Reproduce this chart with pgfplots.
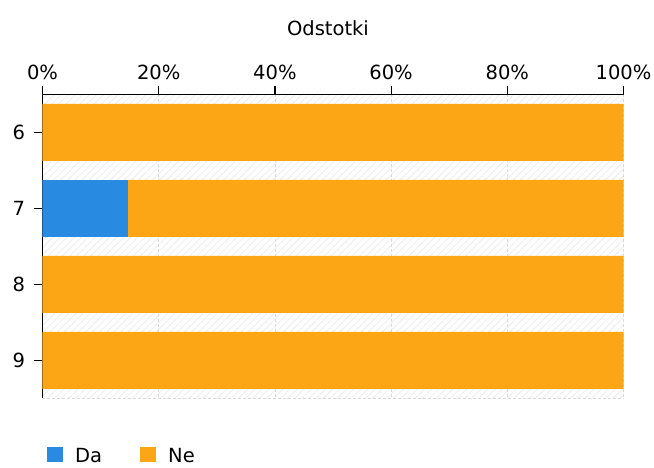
\documentclass[border=0pt]{standalone}
\usepackage{fontspec}
\setmainfont{DejaVu Sans}
\usepackage{pgfplots}
\pgfplotsset{compat=1.18}
\usetikzlibrary{patterns.meta}
\definecolor{cda}{HTML}{298AE2}
\definecolor{cne}{HTML}{FCA616}
\definecolor{hatch}{HTML}{ECECEC}
\definecolor{gridc}{HTML}{DADADA}
\newcommand\fs{\fontsize{19.5}{23}\selectfont}
\begin{document}
\begin{tikzpicture}
\useasboundingbox (-42.5pt,-68.7pt) rectangle (611.5pt,398.3pt);
\begin{axis}[
  at={(0,0)}, anchor=south west,
  scale only axis, width=581pt, height=304pt,
  xbar stacked, bar width=0.75,
  xmin=0, xmax=100, ymin=-0.5, ymax=3.5, y dir=reverse,
  axis x line*=top, axis y line*=left,
  axis line style={-, black, line width=1.5pt},
  axis background/.style={pattern={Lines[angle=45,distance=5pt,line width=0.8pt]}, pattern color=hatch},
  xtick={0,20,...,100},
  xticklabel={\pgfmathprintnumber{\tick}\%},
  ytick={0,1,2,3}, yticklabels={6,7,8,9},
  tick align=outside, major tick length=8pt,
  tick style={black, line width=1.2pt},
  /pgf/number format/assume math mode=true,
  ticklabel style={font=\fs},
  xticklabel style={yshift=3pt},
  yticklabel style={xshift=-6pt},
  xmajorgrids, major grid style={gridc, line width=0.8pt, dash pattern=on 3pt off 2pt},
  legend columns=2,
  legend style={at={(0,0)}, anchor=west, xshift=4.5pt, yshift=-56.2pt,
    draw=none, fill=none, inner sep=0pt, font=\fs,
    nodes={inner sep=0pt, text depth=0pt},
    /tikz/every odd column/.append style={column sep=12.5pt},
    /tikz/every even column/.append style={column sep=38pt}},
  legend image code/.code={\fill[#1] (0pt,-6.7pt) rectangle (15.5pt,8.8pt);},
]
\addplot[fill=cda, draw=none] coordinates {(0,0) (14.7,1) (0,2) (0,3)};
\addplot[fill=cne, draw=none] coordinates {(100,0) (85.3,1) (100,2) (100,3)};
\legend{Da, Ne}
\draw[gridc, line width=0.8pt, dash pattern=on 3pt off 2pt] (rel axis cs:0,0) -- (rel axis cs:1,0);
\end{axis}
\node[font=\fs] at (285.5pt,370pt) {Odstotki};
\end{tikzpicture}
\end{document}
